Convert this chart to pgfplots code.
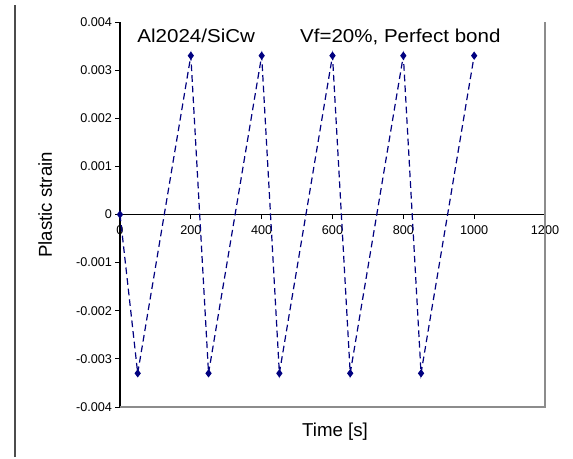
\documentclass[border=0pt]{standalone}
\usepackage{fontspec}
\setmainfont{Liberation Sans}
\usepackage{pgfplots}
\pgfplotsset{compat=1.18}
\definecolor{series}{RGB}{0,0,128}
\definecolor{framegray}{RGB}{140,140,140}

\begin{document}
\begin{tikzpicture}
\useasboundingbox (-90pt,-39pt) rectangle (339.75pt,305.25pt);
\fill[white] (-90pt,-39pt) rectangle (339.75pt,305.25pt);
% outer chart border on the left
\draw[line width=0.9pt, black!70] (-78.75pt,-37.5pt) -- (-78.75pt,301.5pt);
\begin{axis}[
  at={(0,0)}, anchor=south west,
  scale only axis, width=318.75pt, height=288.75pt,
  xmin=0, xmax=1200, ymin=-0.004, ymax=0.004,
  axis x line*=middle, axis y line*=left,
  hide obscured x ticks=false, hide obscured y ticks=false,
  xtick={0,200,400,600,800,1000,1200},
  xticklabels={0,200,400,600,800,1000,1200},
  ytick={-0.004,-0.003,-0.002,-0.001,0,0.001,0.002,0.003,0.004},
  yticklabels={-0.004,-0.003,-0.002,-0.001,0,0.001,0.002,0.003,0.004},
  scaled ticks=false,
  tick align=outside, major tick length=3.5pt,
  tick style={black, line width=0.7pt},
  axis line style={black, line width=0.9pt},
  x tick label style={font=\fontsize{9.5}{10}\selectfont, yshift=-1pt},
  y tick label style={font=\fontsize{9.5}{10}\selectfont, xshift=1pt},
  xlabel={Time [s]},
  ylabel={Plastic strain},
  xlabel style={font=\fontsize{14}{16}\selectfont, at={(axis description cs:0.506,-0.065)}, anchor=center},
  ylabel style={font=\fontsize{14}{16}\selectfont, at={(axis description cs:-0.176,0.525)}, anchor=center},
  clip=false,
]
% plot area frame (right and bottom)
\draw[framegray, line width=1pt] (rel axis cs:0,0) -- (rel axis cs:1,0) -- (rel axis cs:1,1);
\addplot[series, line width=0.9pt, dash pattern=on 5pt off 3pt,
  mark=diamond*, mark size=2.4pt, mark options={solid, fill=series}]
  coordinates {
  (0,0) (50,-0.0033) (200,0.0033) (250,-0.0033) (400,0.0033)
  (450,-0.0033) (600,0.0033) (650,-0.0033) (800,0.0033)
  (850,-0.0033) (1000,0.0033)
};
\node[anchor=west, font=\fontsize{14}{16}\selectfont] at (rel axis cs:0.03,0.962)
  {\scalebox{1.1}[1]{Al2024/SiCw\hspace{2.2em}Vf=20\%, Perfect bond}};
\end{axis}
\end{tikzpicture}
\end{document}
